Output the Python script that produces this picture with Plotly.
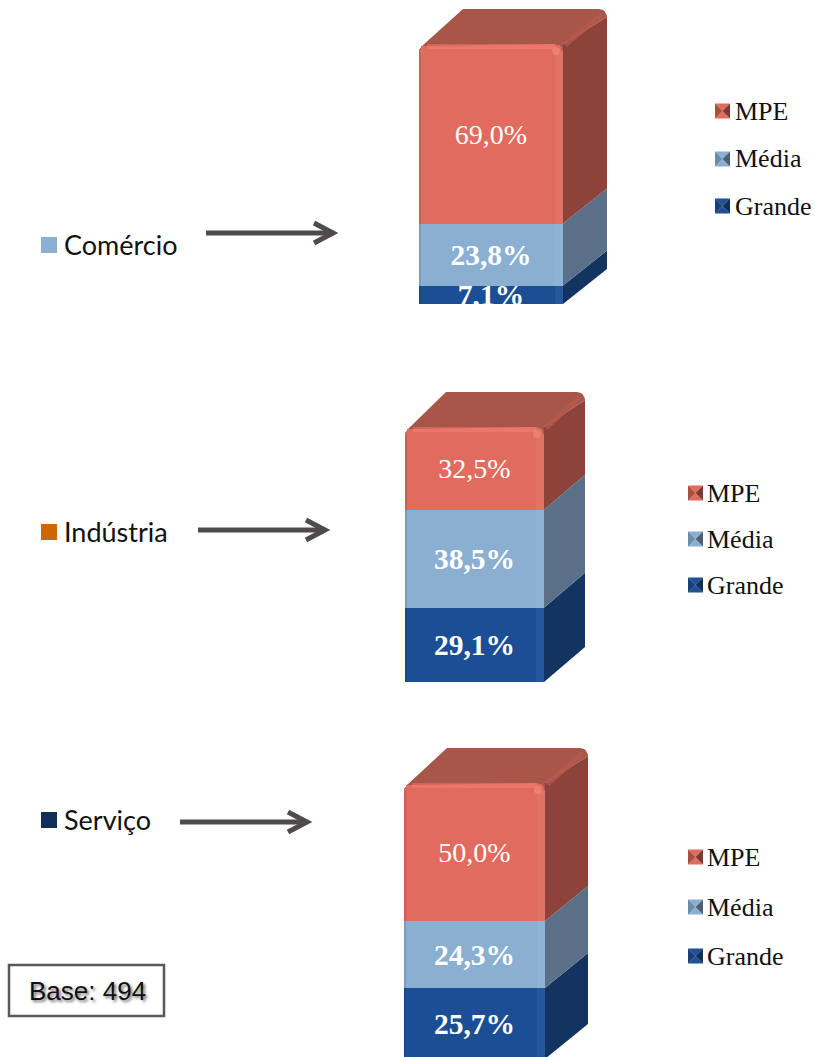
import math
import plotly.graph_objects as go

# ---- data ----
sectors = ["Comércio", "Indústria", "Serviço"]
sizes = ["Grande", "Média", "MPE"]
grande = [7.1, 29.1, 25.7]
media = [23.8, 38.5, 24.3]
mpe = [69.0, 32.5, 50.0]
base_label = "Base: 494"

# ---- styling ----
W, H = 815, 1057
SERIF = "Liberation Serif"
FRONT = {"Grande": "#1C4E96", "Média": "#8AAFD1", "MPE": "#E06B5E"}
SIDE = {"Grande": "#133360", "Média": "#5A7088", "MPE": "#8C4339"}
TOP = "#A8554A"
KEY = {
    "Grande": ("#1F4F95", "#10305A", "#173F78"),
    "Média": ("#8AAFD1", "#4E6076", "#6C8BA8"),
    "MPE": ("#E06B5E", "#7A3A30", "#A8503F"),
}
SECTOR_COL = ["#8AAFD1", "#CC6600", "#10305A"]

# pixel frames of the three panels: left, right, top, bottom of the front face
frames = [
    dict(l=419, r=563, t=44, b=304, dx=44, dy=35, lo=0.0, scale=2.603),
    dict(l=405, r=544, t=427, b=682, dx=41, dy=35, lo=0.0, scale=2.547),
    dict(l=404, r=545, t=783, b=1057, dx=43, dy=35, lo=0.7, scale=2.76),
]
legend_pos = [
    dict(kx=715, tx=733, ys=[206, 159, 111]),
    dict(kx=688, tx=705, ys=[585, 539, 493]),
    dict(kx=688, tx=705, ys=[956, 907, 857]),
]
left_pos = [
    dict(y=245, ax0=206, ax1=338, ay=233),
    dict(y=532, ax0=198, ax1=330, ay=530),
    dict(y=820, ax0=180, ax1=312, ay=822),
]


def px(x):
    return x / W


def py(y):
    return 1 - y / H


def pct(v):
    return f"{v:.1f}".replace(".", ",") + "%"


fig = go.Figure()
shapes, annots = [], []
R = 8  # corner radius in pixels

for i, sector in enumerate(sectors):
    f = frames[i]
    n = "" if i == 0 else str(i + 1)
    xa, ya = "x" + n, "y" + n
    vals = {"Grande": grande[i], "Média": media[i], "MPE": mpe[i]}
    total = sum(vals.values())
    w = f["r"] - f["l"]
    ux, uy = 1 / w, 1 / f["scale"]    # one pixel in data units
    ddx = f["dx"] * ux
    ddy = f["dy"] * uy

    fig.layout[("xaxis" + n)] = dict(
        domain=[px(f["l"]), px(f["r"] + f["dx"])],
        range=[-0.5, 0.5 + ddx], visible=False, fixedrange=True,
        anchor=ya,
    )
    fig.layout[("yaxis" + n)] = dict(
        domain=[py(f["b"]), py(f["t"] - f["dy"])],
        range=[f["lo"], total + ddy], visible=False, fixedrange=True,
        anchor=xa,
    )

    cum = 0.0
    for s in sizes:
        v = vals[s]
        lo, hi = cum, cum + v
        is_top = s == "MPE"
        # side face
        fig.add_trace(go.Scatter(
            x=[0.5, 0.5 + ddx, 0.5 + ddx, 0.5],
            y=[lo, lo + ddy, hi + ddy - (R * uy if is_top else 0), hi],
            xaxis=xa, yaxis=ya, mode="lines", fill="toself",
            fillcolor=SIDE[s], line=dict(width=0), hoverinfo="skip",
        ))
        # front face
        fig.add_trace(go.Bar(
            x=[0], y=[v], xaxis=xa, yaxis=ya, name=s,
            marker=dict(color=FRONT[s], line=dict(width=0)),
            text=[pct(v)], textposition="inside", insidetextanchor="middle",
            textangle=0, constraintext="none", cliponaxis=True,
            textfont=dict(family=SERIF, size=28 if is_top else 29.5, color="white",
                          weight="normal" if is_top else "bold"),
            width=1,
        ))
        # bevel strips on the front face
        top_end = hi - (R * uy if is_top else 0)
        fig.add_trace(go.Scatter(
            x=[0.5 - 4 * ux, 0.5 - 4 * ux], y=[lo, top_end],
            xaxis=xa, yaxis=ya, mode="lines",
            line=dict(color="rgba(255,255,255,0.05)", width=8), hoverinfo="skip",
        ))
        fig.add_trace(go.Scatter(
            x=[-0.5 + ux, -0.5 + ux], y=[lo, top_end],
            xaxis=xa, yaxis=ya, mode="lines",
            line=dict(color="rgba(0,0,0,0.10)", width=2), hoverinfo="skip",
        ))
        cum = hi

    # top face, with a rounded back-right corner
    arc = [(R * (1 - math.cos(a)), R * (1 - math.sin(a)))
           for a in [j * math.pi / 12 for j in range(7)]]
    arc_x = [0.5 + ddx - ax * ux for ax, _ in arc]
    arc_y = [total + ddy - ay * uy for _, ay in arc]
    fig.add_trace(go.Scatter(
        x=[-0.5 + 3 * ux, -0.5 + ddx] + arc_x[::-1]
          + [0.5, 0.5, 0.5 - 0.293 * R * ux, 0.5 - R * ux],
        y=[total - 2 * uy, total + ddy] + arc_y[::-1]
          + [total, total - R * uy, total - 0.293 * R * uy, total],
        xaxis=xa, yaxis=ya, mode="lines", fill="toself", fillcolor=TOP,
        line=dict(width=0), hoverinfo="skip",
    ))
    # highlights: top edge of the front, diagonal edge of the top, corner spot
    fig.add_trace(go.Scatter(
        x=[-0.5 + R * ux, 0.5 - R * ux], y=[total - 2.5 * uy] * 2,
        xaxis=xa, yaxis=ya, mode="lines",
        line=dict(color="rgba(255,140,125,0.35)", width=5), hoverinfo="skip",
    ))
    fig.add_trace(go.Scatter(
        x=[0.5 + 2 * ux, 0.5 + ddx - 5 * ux],
        y=[total - uy, total + ddy - 5 * uy],
        xaxis=xa, yaxis=ya, mode="lines",
        line=dict(color="rgba(185,88,76,0.75)", width=5), hoverinfo="skip",
    ))
    fig.add_trace(go.Scatter(
        x=[0.5 - 7 * ux], y=[total - 7 * uy],
        xaxis=xa, yaxis=ya, mode="markers",
        marker=dict(color="rgba(245,140,125,0.6)", size=8, line=dict(width=0)),
        hoverinfo="skip",
    ))

    # legend of the panel
    lp = legend_pos[i]
    for s, yc in zip(sizes, lp["ys"]):
        x0, x1 = lp["kx"], lp["kx"] + 15
        y0, y1 = yc - 7.5, yc + 7.5
        xm, ym = (x0 + x1) / 2, (y0 + y1) / 2
        light, dark, mid = KEY[s]
        tris = [
            ([(x0, y0), (x1, y0), (xm, ym)], light),
            ([(x0, y1), (x1, y1), (xm, ym)], light),
            ([(x0, y0), (x0, y1), (xm, ym)], mid),
            ([(x1, y0), (x1, y1), (xm, ym)], dark),
        ]
        for pts, col in tris:
            path = "M " + " L ".join(f"{px(a):.5f},{py(b):.5f}" for a, b in pts) + " Z"
            shapes.append(dict(type="path", xref="paper", yref="paper", path=path,
                               fillcolor=col, line=dict(width=0)))
        annots.append(dict(x=px(lp["tx"]), y=py(yc), xref="paper", yref="paper",
                           text=s, showarrow=False, xanchor="left", yanchor="middle",
                           font=dict(family=SERIF, size=26, color="#111111")))

    # sector label and arrow on the left
    lf = left_pos[i]
    shapes.append(dict(type="rect", xref="paper", yref="paper",
                       x0=px(41), x1=px(57), y0=py(lf["y"] + 8), y1=py(lf["y"] - 8),
                       fillcolor=SECTOR_COL[i], line=dict(width=0)))
    annots.append(dict(x=px(62), y=py(lf["y"] - 1), xref="paper", yref="paper",
                       text=sector, showarrow=False, xanchor="left", yanchor="middle",
                       font=dict(family="Lato", size=27, color="#111111")))
    ay = lf["ay"]
    shapes.append(dict(type="line", xref="paper", yref="paper",
                       x0=px(lf["ax0"]), x1=px(lf["ax1"] - 5), y0=py(ay), y1=py(ay),
                       line=dict(color="#4F4B4A", width=5)))
    chev = (f"M {px(lf['ax1'] - 24):.5f},{py(ay - 10):.5f} "
            f"L {px(lf['ax1'] - 5):.5f},{py(ay):.5f} "
            f"L {px(lf['ax1'] - 24):.5f},{py(ay + 10):.5f}")
    shapes.append(dict(type="path", xref="paper", yref="paper", path=chev,
                       line=dict(color="#4F4B4A", width=5)))

# base box
shapes.append(dict(type="rect", xref="paper", yref="paper",
                   x0=px(9), x1=px(164), y0=py(1016), y1=py(965),
                   fillcolor="white", line=dict(color="#595959", width=2.5)))
annots.append(dict(x=px(87), y=py(991), xref="paper", yref="paper", text=base_label,
                   showarrow=False, xanchor="center", yanchor="middle",
                   font=dict(family="Liberation Sans", size=26, color="#111111",
                             shadow="2px 2px 3px #777777")))

fig.update_layout(
    width=W, height=H, autosize=False,
    margin=dict(l=0, r=0, t=0, b=0, pad=0),
    paper_bgcolor="white", plot_bgcolor="rgba(0,0,0,0)",
    barmode="stack", bargap=0, barcornerradius=R, showlegend=False,
    shapes=shapes, annotations=annots,
)

fig.write_html(
    "out.html",
    config={"displayModeBar": False},
    post_script="document.body.style.margin='0';document.documentElement.style.overflow='hidden';",
)
